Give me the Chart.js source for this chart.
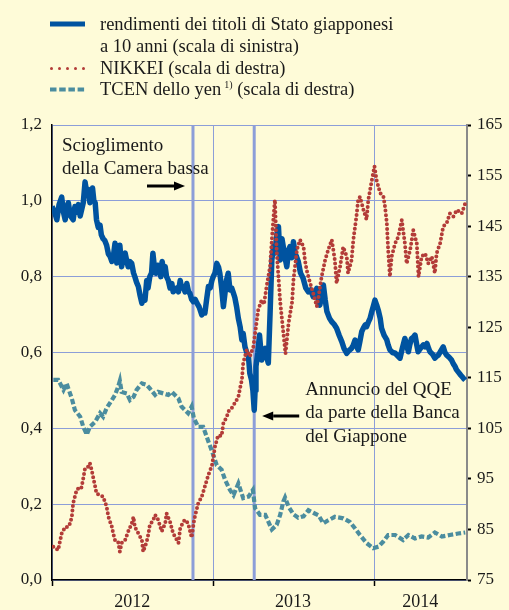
<!DOCTYPE html>
<html>
<head>
<meta charset="utf-8">
<script src="https://cdn.jsdelivr.net/npm/chart.js@4.4.1/dist/chart.umd.min.js"></script>
<style>
  html, body { margin: 0; padding: 0; background: #fefbd8; }
  canvas { display: block; }
</style>
</head>
<body>
<canvas id="chart" width="509" height="610"></canvas>
<script>
// --- DATA (x = days from 1 Jan 2012) ---
const yearTicks = [0, 366, 731];
const yearLabels = ['2012', '2013', '2014'];
const yearLabelDays = [182, 547, 836];
const lastDay = 942;

// 16 Nov 2012 (dissolution), 4 Apr 2013 (QQE)
const eventDays = [320, 459];

// 10y JGB yield, left scale
const yieldData = [
  [0,0.985],[6,0.97],[11,0.95],[16,0.99],[22,1.01],[26,0.97],[30,0.95],[33,0.98],[37,0.995],[42,0.96],
  [48,0.95],[52,0.985],[56,0.97],[60,0.99],[64,0.96],[68,0.98],[71,0.995],[75,1.05],[79,1.02],[82,1.03],
  [86,0.995],[92,1.034],[95,1.0],[98,0.995],[101,0.95],[105,0.93],[109,0.936],[112,0.91],[116,0.90],[120,0.895],
  [124,0.883],[128,0.86],[132,0.853],[136,0.84],[140,0.86],[143,0.888],[147,0.836],[151,0.86],[154,0.883],[158,0.826],
  [162,0.85],[166,0.862],[170,0.84],[173,0.826],[177,0.84],[181,0.835],[185,0.81],[188,0.80],[192,0.785],[196,0.774],
  [200,0.75],[204,0.73],[208,0.745],[211,0.738],[215,0.79],[218,0.77],[222,0.80],[226,0.81],[229,0.862],[232,0.83],
  [236,0.809],[240,0.83],[244,0.818],[247,0.8],[250,0.84],[254,0.81],[257,0.826],[260,0.8],[264,0.79],[268,0.77],
  [272,0.782],[275,0.76],[279,0.765],[283,0.77],[287,0.76],[291,0.79],[294,0.77],[298,0.774],[302,0.76],[306,0.782],
  [310,0.76],[313,0.756],[317,0.74],[321,0.734],[325,0.74],[329,0.73],[334,0.72],[340,0.699],[343,0.705],[347,0.704],
  [351,0.74],[355,0.774],[359,0.77],[363,0.79],[366,0.80],[370,0.81],[374,0.835],[378,0.825],[381,0.809],[385,0.77],
  [389,0.721],[393,0.76],[396,0.79],[400,0.809],[404,0.765],[408,0.77],[412,0.756],[415,0.745],[419,0.721],[423,0.69],
  [427,0.668],[431,0.633],[434,0.65],[438,0.615],[442,0.6],[446,0.589],[449,0.545],[453,0.527],[456,0.5],[459,0.448],
  [461,0.5],[463,0.563],[467,0.6],[471,0.646],[473,0.62],[476,0.58],[480,0.6],[484,0.611],[487,0.59],[491,0.572],
  [495,0.703],[499,0.844],[503,0.88],[506,0.862],[510,0.91],[514,0.932],[518,0.844],[522,0.9],[525,0.879],[529,0.85],
  [533,0.826],[537,0.87],[540,0.879],[544,0.85],[548,0.892],[552,0.86],[555,0.853],[559,0.84],[564,0.81],[570,0.796],
  [576,0.77],[582,0.76],[587,0.765],[593,0.747],[597,0.755],[601,0.769],[604,0.74],[608,0.725],[612,0.75],[616,0.778],
  [620,0.74],[624,0.708],[630,0.69],[635,0.681],[640,0.675],[646,0.664],[652,0.645],[658,0.628],[663,0.61],[669,0.598],
  [674,0.605],[680,0.611],[684,0.62],[688,0.633],[692,0.615],[695,0.607],[699,0.63],[703,0.655],[707,0.665],[711,0.673],
  [714,0.668],[718,0.68],[722,0.69],[726,0.708],[730,0.725],[733,0.738],[737,0.725],[741,0.71],[745,0.69],[748,0.664],
  [754,0.645],[760,0.633],[763,0.62],[767,0.607],[773,0.6],[779,0.598],[784,0.592],[790,0.585],[795,0.61],[801,0.637],
  [805,0.62],[809,0.602],[812,0.62],[816,0.637],[820,0.64],[824,0.646],[828,0.62],[831,0.602],[837,0.612],[843,0.62],
  [847,0.615],[851,0.624],[855,0.61],[858,0.602],[864,0.595],[869,0.585],[873,0.59],[877,0.593],[883,0.605],[888,0.615],
  [892,0.6],[896,0.593],[901,0.588],[907,0.58],[911,0.57],[915,0.563],[918,0.555],[922,0.549],[928,0.54],[934,0.532],
  [938,0.527]
];

// NIKKEI, right scale
const nikkeiData = [
  [3,81.6],[14,80.9],[18,82.6],[22,84.2],[30,85.5],[37,85.5],[41,86.2],[45,87.5],[48,90.2],[56,92.8],
  [64,93.5],[67,93.3],[71,95.1],[75,97.1],[82,97.4],[86,98.1],[90,96.8],[94,95.1],[98,93.5],[101,92.1],
  [109,91.8],[116,91.5],[124,89.5],[128,87.5],[136,85.5],[139,84.2],[143,82.9],[150,82.6],[154,80.6],[158,82.3],
  [166,82.9],[173,84.6],[181,86.2],[185,87.5],[188,85.5],[196,84.2],[204,82.9],[207,80.6],[215,82.6],[219,84.2],
  [222,85.9],[230,86.9],[234,87.9],[241,86.9],[249,84.6],[257,86.2],[260,88.2],[268,86.5],[275,84.2],[279,83.6],
  [287,82.3],[291,85.2],[298,86.5],[302,86.9],[309,86.2],[317,83.4],[322,86.5],[325,87.8],[332,90.2],[340,91.5],
  [347,93.5],[355,95.8],[363,97.6],[370,101.4],[377,103.6],[385,103.5],[389,106.0],[397,107.3],[400,108.3],[408,109.0],
  [415,110.0],[423,111.2],[427,113.0],[431,114.6],[434,117.9],[442,120.5],[449,119.2],[457,121.1],[461,123.8],[468,128.4],
  [476,130.4],[481,129.5],[487,133.0],[495,137.0],[499,142.3],[503,147.0],[506,150.2],[510,140.0],[518,130.0],[525,124.0],
  [530,119.8],[537,125.8],[545,130.0],[548,134.3],[556,140.3],[563,142.3],[571,140.9],[574,138.3],[578,136.3],[586,133.7],
  [593,131.7],[601,129.1],[605,131.0],[612,135.0],[620,138.3],[627,140.3],[635,142.3],[642,138.3],[646,133.7],[654,137.0],
  [661,140.9],[669,139.0],[672,135.7],[680,138.3],[684,142.3],[691,146.9],[695,150.2],[699,150.8],[707,148.2],[714,146.3],
  [718,150.2],[726,154.1],[732,156.8],[737,154.0],[745,151.5],[752,151.0],[756,148.8],[760,145.6],[763,140.3],[767,135.0],
  [771,139.0],[779,141.6],[786,142.9],[794,146.2],[797,144.2],[801,141.6],[805,137.6],[813,140.3],[820,144.2],[828,141.6],
  [832,135.0],[839,139.0],[847,139.6],[854,137.6],[862,139.0],[869,135.7],[873,139.6],[881,141.6],[888,144.9],[896,145.6],
  [903,147.5],[911,146.9],[919,148.2],[930,147.5],[938,149.5]
];

// Yen nominal effective exchange rate, right scale
const tcenData = [
  [3,114.6],[14,114.6],[26,112.6],[33,113.9],[45,110.9],[52,108.6],[64,107.3],[71,105.3],[79,103.8],[86,105.3],
  [98,106.3],[109,108.0],[116,107.3],[124,109.0],[136,110.6],[143,111.6],[150,113.2],[154,114.4],[158,112.2],[170,111.9],
  [177,110.6],[185,111.2],[192,112.6],[204,113.9],[215,113.6],[222,112.9],[234,111.6],[241,112.2],[253,111.9],[264,111.6],
  [272,112.2],[279,111.6],[287,110.9],[294,109.3],[302,108.6],[309,108.0],[317,109.3],[322,107.0],[332,105.3],[343,105.3],
  [355,102.4],[363,100.5],[374,97.7],[385,96.8],[393,94.8],[404,92.8],[412,91.8],[423,94.1],[434,91.2],[446,91.5],
  [456,92.8],[461,89.2],[472,87.9],[484,87.9],[499,85.0],[510,85.9],[518,87.9],[525,90.5],[529,91.3],[537,89.5],
  [548,88.0],[559,87.3],[571,87.6],[582,88.8],[593,88.3],[605,87.8],[616,86.2],[627,86.8],[642,87.5],[661,87.2],
  [676,86.5],[688,85.2],[699,83.9],[714,82.3],[729,81.3],[741,81.6],[752,82.6],[763,83.9],[779,83.9],[797,82.9],
  [809,83.9],[824,83.2],[839,83.6],[854,83.4],[869,84.4],[885,83.6],[903,83.9],[922,84.2],[938,84.4]
];

const legendLabels = [
  'rendimenti dei titoli di Stato giapponesi',
  'a 10 anni (scala di sinistra)',
  'NIKKEI (scala di destra)',
  'TCEN dello yen',
  ' (scala di destra)'
];
const noteDissolution = ['Scioglimento', 'della Camera bassa'];
const noteQQE = ['Annuncio del QQE', 'da parte della Banca', 'del Giappone'];

// --- STYLE ---
const bgColor = '#fefbd8';
const blue = '#0053a0';
const red = '#b33c38';
const teal = '#4b8d9f';
const gridColor = '#8c9ed8';
const textColor = '#1a1a1a';
const serif = '"Liberation Serif", "Times New Roman", serif';

const toXY = arr => arr.map(p => ({ x: p[0], y: p[1] }));

function drawArrow(ctx, x1, x2, y) {
  const dir = Math.sign(x2 - x1);
  const head = 11;
  ctx.beginPath();
  ctx.moveTo(x1, y);
  ctx.lineTo(x2 - dir * head, y);
  ctx.stroke();
  ctx.beginPath();
  ctx.moveTo(x2, y);
  ctx.lineTo(x2 - dir * head, y - 4.5);
  ctx.lineTo(x2 - dir * head, y + 4.5);
  ctx.closePath();
  ctx.fill();
}

const decorPlugin = {
  id: 'decor',
  beforeDraw(chart) {
    const ctx = chart.ctx;
    ctx.save();
    ctx.fillStyle = bgColor;
    ctx.fillRect(0, 0, chart.width, chart.height);
    ctx.restore();
  },
  beforeDatasetsDraw(chart) {
    // event lines
    const { ctx, chartArea, scales } = chart;
    ctx.save();
    ctx.strokeStyle = gridColor;
    ctx.lineWidth = 3;
    eventDays.forEach(d => {
      const x = scales.x.getPixelForValue(d);
      ctx.beginPath();
      ctx.moveTo(x, chartArea.top);
      ctx.lineTo(x, chartArea.bottom);
      ctx.stroke();
    });
    ctx.restore();
  },
  afterDraw(chart) {
    const { ctx, chartArea, scales } = chart;
    ctx.save();

    // legend
    ctx.fillStyle = textColor;
    ctx.textBaseline = 'alphabetic';
    ctx.font = '18.5px ' + serif;
    ctx.strokeStyle = blue;
    ctx.lineWidth = 5;
    ctx.beginPath(); ctx.moveTo(50, 24); ctx.lineTo(85, 24); ctx.stroke();
    ctx.fillText(legendLabels[0], 100, 29.5);
    ctx.fillText(legendLabels[1], 100, 51.5);

    ctx.fillStyle = red;
    for (let i = 0; i < 5; i++) {
      ctx.beginPath(); ctx.arc(51.5 + i * 8, 68.5, 1.5, 0, Math.PI * 2); ctx.fill();
    }
    ctx.fillStyle = textColor;
    ctx.fillText(legendLabels[2], 100, 73.5);

    ctx.strokeStyle = teal;
    ctx.lineWidth = 4;
    ctx.setLineDash([6.5, 2.7]);
    ctx.beginPath(); ctx.moveTo(50, 89.5); ctx.lineTo(85, 89.5); ctx.stroke();
    ctx.setLineDash([]);
    ctx.fillText(legendLabels[3], 100, 95);
    const w = ctx.measureText(legendLabels[3]).width;
    ctx.font = '10px ' + serif;
    ctx.fillText('1)', 100 + w + 3, 88);
    const sw = ctx.measureText('1)').width;
    ctx.font = '18.5px ' + serif;
    ctx.fillText(legendLabels[4], 100 + w + 3 + sw, 95);

    // annotations
    ctx.font = '19px ' + serif;
    ctx.fillStyle = textColor;
    ctx.strokeStyle = '#000';
    noteDissolution.forEach((t, i) => ctx.fillText(t, chartArea.left + 10, chartArea.top + 26 + i * 23));
    const e1 = scales.x.getPixelForValue(eventDays[0]);
    ctx.fillStyle = '#000';
    ctx.lineWidth = 3;
    drawArrow(ctx, e1 - 46, e1 - 8, chartArea.top + 61);

    const e2 = scales.x.getPixelForValue(eventDays[1]);
    ctx.fillStyle = textColor;
    noteQQE.forEach((t, i) => ctx.fillText(t, e2 + 51, chartArea.top + 270 + i * 23.3));
    ctx.fillStyle = '#000';
    drawArrow(ctx, e2 + 45, e2 + 8, chartArea.top + 291);

    ctx.restore();
  }
};

new Chart(document.getElementById('chart').getContext('2d'), {
  type: 'line',
  data: {
    datasets: [
      {
        label: 'NIKKEI',
        data: toXY(nikkeiData),
        yAxisID: 'y2',
        borderColor: red,
        borderWidth: 4,
        borderDash: [0, 4.6],
        borderCapStyle: 'round',
        pointRadius: 0,
        order: 0
      },
      {
        label: 'rendimenti',
        data: toXY(yieldData),
        yAxisID: 'y',
        borderColor: blue,
        borderWidth: 5.5,
        borderJoinStyle: 'round',
        pointRadius: 0,
        order: 1
      },
      {
        label: 'TCEN',
        data: toXY(tcenData),
        yAxisID: 'y2',
        borderColor: teal,
        borderWidth: 4.2,
        borderDash: [5.5, 2.5],
        pointRadius: 0,
        order: 2
      }
    ]
  },
  options: {
    responsive: false,
    devicePixelRatio: 1,
    animation: false,
    layout: { padding: { top: 125, left: 0, right: 0, bottom: 0 } },
    plugins: { legend: { display: false }, tooltip: { enabled: false } },
    scales: {
      x: {
        type: 'linear',
        min: 0,
        max: lastDay,
        afterBuildTicks: s => {
          s.ticks = yearTicks.map(v => ({ value: v }))
            .concat(yearLabelDays.map(v => ({ value: v })))
            .sort((a, b) => a.value - b.value);
        },
        afterFit: s => { s.height = 30; },
        border: { color: '#000', width: 1.5 },
        grid: {
          color: c => yearTicks.includes(c.tick.value) ? gridColor : 'rgba(0,0,0,0)',
          tickColor: c => yearTicks.includes(c.tick.value) ? '#000' : 'rgba(0,0,0,0)',
          lineWidth: 1,
          tickWidth: 1.5,
          tickLength: 6
        },
        ticks: {
          autoSkip: false,
          maxRotation: 0,
          padding: 5,
          color: textColor,
          font: { family: serif, size: 18 },
          callback: v => {
            const i = yearLabelDays.indexOf(v);
            return i >= 0 ? yearLabels[i] : '';
          }
        }
      },
      y: {
        position: 'left',
        min: 0,
        max: 1.2,
        afterFit: s => { s.width = 52; },
        border: { color: '#000', width: 1.5 },
        grid: { color: gridColor, lineWidth: 1, drawTicks: false },
        ticks: {
          stepSize: 0.2,
          padding: 10,
          color: textColor,
          font: { family: serif, size: 17 },
          callback: v => v.toFixed(1).replace('.', ',')
        }
      },
      y2: {
        position: 'right',
        min: 75,
        max: 165,
        afterFit: s => { s.width = 42; },
        border: { color: '#8a8a8a', width: 2 },
        grid: { drawOnChartArea: false, drawTicks: true, tickLength: 4, tickWidth: 2, tickColor: '#000' },
        ticks: {
          stepSize: 10,
          padding: 6,
          color: textColor,
          font: { family: serif, size: 17 }
        }
      }
    }
  },
  plugins: [decorPlugin]
});
</script>
</body>
</html>
